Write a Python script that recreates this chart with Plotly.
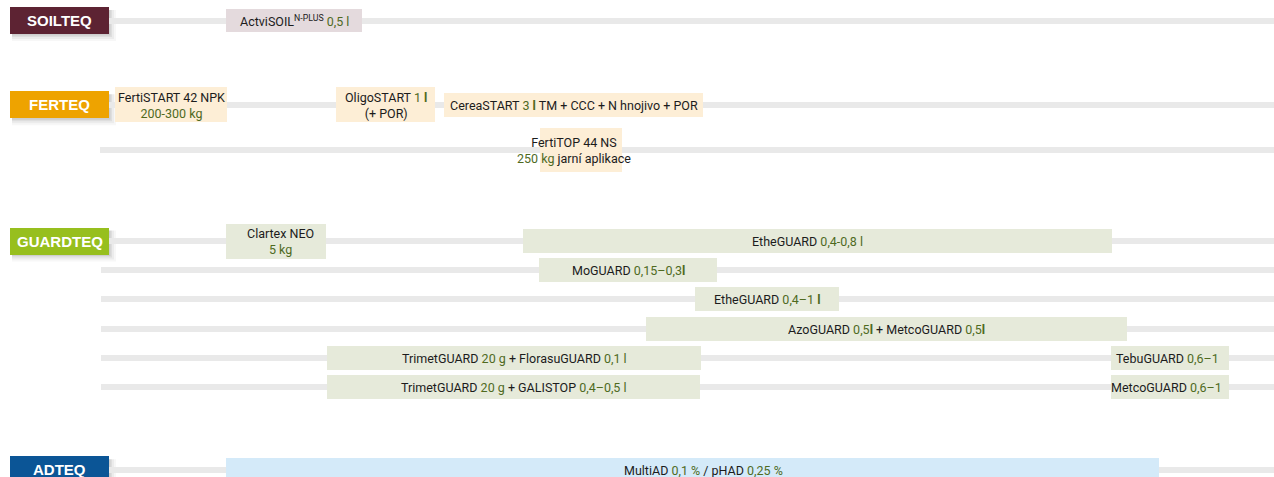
import plotly.graph_objects as go

# ---------------- data ----------------
GREEN = "#4f6a1f"


def g(s):
    return f"<span style='color:{GREEN}'>{s}</span>"


group_names = ["SOILTEQ", "FERTEQ", "GUARDTEQ", "ADTEQ"]
group_lane = ["soil", "fert1", "guard1", "ad"]
group_start = [10, 10, 10, 10]
group_end = [109, 109, 109, 109]

lane_names = ["soil", "fert1", "fert2", "guard1", "guard2", "guard3",
              "guard4", "guard5", "guard6", "ad"]
lane_pos = [20.5, 104.8, 150, 241, 270, 299.3, 328.6, 357.8, 387.3, 469.7]
lane_from = [109, 109, 100, 109, 101, 101, 101, 101, 101, 109]
lane_to = [1274] * 10

product_group = ["SOILTEQ", "FERTEQ", "FERTEQ", "FERTEQ", "FERTEQ",
                 "GUARDTEQ", "GUARDTEQ", "GUARDTEQ", "GUARDTEQ", "GUARDTEQ",
                 "GUARDTEQ", "GUARDTEQ", "GUARDTEQ", "GUARDTEQ", "ADTEQ"]
product_lane = ["soil", "fert1", "fert1", "fert1", "fert2",
                "guard1", "guard1", "guard2", "guard3", "guard4",
                "guard5", "guard5", "guard6", "guard6", "ad"]
product_start = [226, 115, 336, 444, 540, 226, 523, 539, 695, 646, 327, 1111, 327, 1111, 226]
product_end = [362, 227, 435, 703, 622, 326, 1112, 717, 839, 1127, 701, 1229, 700, 1229, 1159]
product_label = [
    "ActviSOIL<sup>N-PLUS</sup> " + g("0,5 l"),
    "FertiSTART 42 NPK<br>" + g("200-300 kg"),
    "OligoSTART " + g("1 <b>l</b>") + "<br>(+ POR)",
    "CereaSTART " + g("3 <b>l</b>") + " TM + CCC + N hnojivo + POR",
    "FertiTOP 44 NS<br>" + g("250 kg") + " jarní aplikace",
    "Clartex NEO<br>" + g("5 kg"),
    "EtheGUARD " + g("0,4-0,8 l"),
    "MoGUARD " + g("0,15–0,3<b>l</b>"),
    "EtheGUARD " + g("0,4–1 <b>l</b>"),
    "AzoGUARD " + g("0,5<b>l</b>") + " + MetcoGUARD " + g("0,5<b>l</b>"),
    "TrimetGUARD " + g("20 g") + " + FlorasuGUARD " + g("0,1 l"),
    "TebuGUARD " + g("0,6–1"),
    "TrimetGUARD " + g("20 g") + " + GALISTOP " + g("0,4–0,5 l"),
    "MetcoGUARD " + g("0,6–1"),
    "MultiAD " + g("0,1 %") + " / pHAD " + g("0,25 %"),
]

# ---------------- style ----------------
group_color = {"SOILTEQ": "#5d2333", "FERTEQ": "#eea300",
               "GUARDTEQ": "#97bf1e", "ADTEQ": "#0b5596"}
box_color = {"SOILTEQ": "#e4dadd", "FERTEQ": "#fdeed6",
             "GUARDTEQ": "#e6eada", "ADTEQ": "#d4eaf9"}
LINE_COLOR = "#e9e9e9"
TEXT_COLOR = "#1c1c1c"
NARROW = "Roboto, Liberation Sans Narrow, sans-serif"
label_h = 27
line_h = 6
box_h_by_lines = {1: 24, 2: 35}
box_h_override = {"SOILTEQ": 23}
special_h = {4: 44}
text_shift = {4: -7, 5: 4, 6: -10, 11: -3, 13: -4, 14: 11}

lane_y = dict(zip(lane_names, lane_pos))

fig = go.Figure()

# lane lines
fig.add_trace(go.Bar(
    orientation="h", base=lane_from,
    x=[b - a for a, b in zip(lane_from, lane_to)],
    y=lane_pos, width=[line_h] * len(lane_pos),
    marker=dict(color=LINE_COLOR, line=dict(width=0)),
    hoverinfo="skip", showlegend=False))

# product boxes
heights = []
for i, lab in enumerate(product_label):
    n = lab.count("<br>") + 1
    h = box_h_by_lines[n]
    if n == 1 and product_group[i] in box_h_override:
        h = box_h_override[product_group[i]]
    h = special_h.get(i, h)
    heights.append(h)

fig.add_trace(go.Bar(
    orientation="h", base=product_start,
    x=[e - s for s, e in zip(product_start, product_end)],
    y=[lane_y[l] for l in product_lane], width=heights,
    marker=dict(color=[box_color[gp] for gp in product_group], line=dict(width=0)),
    hoverinfo="skip", showlegend=False))

# group label boxes
fig.add_trace(go.Bar(
    orientation="h", base=group_start,
    x=[e - s for s, e in zip(group_start, group_end)],
    y=[lane_y[l] for l in group_lane], width=[label_h] * len(group_names),
    marker=dict(color=[group_color[n] for n in group_names], line=dict(width=0)),
    hoverinfo="skip", showlegend=False))

# shadows for group labels (drawn above the lane lines, under the label boxes)
shapes = []
for s, e, l in zip(group_start, group_end, group_lane):
    yc = lane_y[l]
    for k, op in [(7, 0.03), (5, 0.045), (3, 0.06), (1.5, 0.07)]:
        shapes.append(dict(type="rect", xref="x", yref="y", layer="below",
                           x0=s + 2, x1=e + k, y0=yc - label_h / 2 + 3, y1=yc + label_h / 2 + k,
                           fillcolor=f"rgba(0,0,0,{op})", line=dict(width=0)))

annotations = []
for n, l, s, e in zip(group_names, group_lane, group_start, group_end):
    annotations.append(dict(x=(s + e) / 2, y=lane_y[l], xref="x", yref="y",
                            text=f"<b>{n}</b>", showarrow=False,
                            font=dict(family="Liberation Sans, Arial, sans-serif",
                                      size=15, color="white"),
                            xanchor="center", yanchor="middle"))

for i, (lab, l, s, e) in enumerate(zip(product_label, product_lane, product_start, product_end)):
    annotations.append(dict(x=(s + e) / 2 + text_shift.get(i, 0), y=lane_y[l] + 0.5,
                            xref="x", yref="y", text=lab, showarrow=False,
                            font=dict(family=NARROW, size=12.5, color=TEXT_COLOR),
                            xanchor="center", yanchor="middle", align="center"))

fig.update_layout(
    width=1274, height=477,
    margin=dict(l=0, r=0, t=0, b=0),
    paper_bgcolor="white", plot_bgcolor="white",
    barmode="overlay", bargap=0,
    xaxis=dict(range=[0, 1274], visible=False, fixedrange=True),
    yaxis=dict(range=[477, 0], visible=False, fixedrange=True),
    shapes=shapes, annotations=annotations,
    showlegend=False,
)

fig.write_html("out.html", config={"displayModeBar": False},
               post_script="document.body.style.margin='0';document.body.style.overflow='hidden';")
